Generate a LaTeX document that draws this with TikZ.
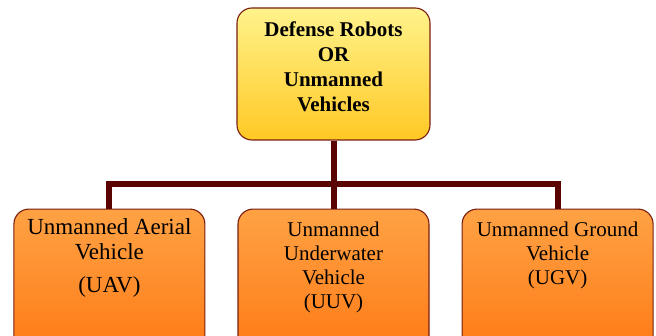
\documentclass[tikz,border=0pt]{standalone}
\usepackage{fontspec}
\setmainfont{Liberation Serif}
\usetikzlibrary{positioning}
\definecolor{boxline}{HTML}{7A1E10}
\definecolor{linkred}{HTML}{5A0404}
\definecolor{paleyellow}{HTML}{FFF38C}
\definecolor{goldyellow}{HTML}{FFC824}
\definecolor{lightorange}{HTML}{FFA244}
\definecolor{deeporange}{HTML}{FF7A16}
\tikzset{
    box/.style = {
        rectangle,
        draw=boxline,
        line width=1.1pt,
        rounded corners=15pt,
        minimum width=191pt,
        minimum height=144pt,
        inner sep=0pt
    },
    yellowbox/.style = {box, minimum width=193pt, minimum height=132pt,
        top color=paleyellow, bottom color=goldyellow},
    orangebox/.style = {box, top color=lightorange, bottom color=deeporange},
    boxtext/.style = {align=center, inner sep=0pt, font=\fontsize{21}{24}\selectfont},
    link/.style = {draw=linkred, line width=6pt}
}
\begin{document}
\begin{tikzpicture}[x=1pt, y=1pt, node distance=68pt and 32pt]
\clip (0,0) rectangle (656,335);

% Racine
\node[yellowbox] (top) at (333.5,261) {};
\node[boxtext, font=\fontsize{21}{25}\selectfont\bfseries, below=14pt of top.north] (toplbl)
    {Defense Robots\\OR\\Unmanned\\Vehicles};

% Trois familles
\node[orangebox, below=of top] (uuv) {};
\node[orangebox, left=of uuv] (uav) {};
\node[orangebox, right=of uuv] (ugv) {};

\node[boxtext, font=\fontsize{23}{25}\selectfont, below=10pt of uav.north] (uavlbl)
    {Unmanned Aerial\\Vehicle\\[8pt](UAV)};
\node[boxtext, below=13pt of uuv.north] (uuvlbl)
    {Unmanned\\Underwater\\Vehicle\\(UUV)};
\node[boxtext, below=13pt of ugv.north] (ugvlbl)
    {Unmanned Ground\\Vehicle\\(UGV)};

% Liens
\draw[link] (top.south) -- (uuv.north);
\draw[link] (uav.north) -- ++(0,25) -| (ugv.north);

\end{tikzpicture}
\end{document}
